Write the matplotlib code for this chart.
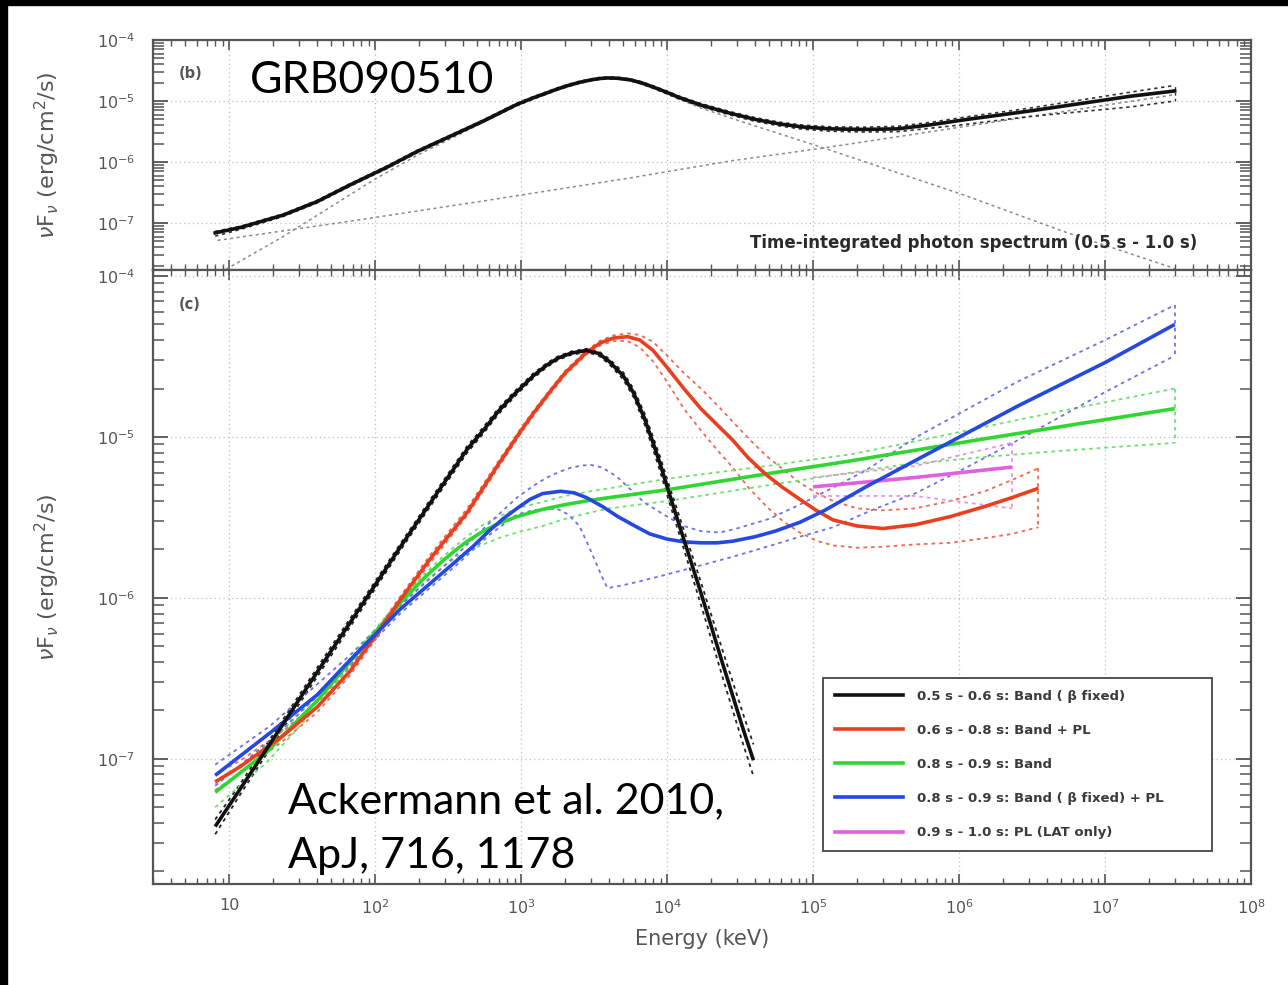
import matplotlib
matplotlib.use('Agg')
import matplotlib.pyplot as plt
from matplotlib.ticker import FixedLocator, FixedFormatter, LogLocator, NullFormatter
from matplotlib.patches import Rectangle
from matplotlib.lines import Line2D

# ---------------- data: top panel (b) ----------------
tot_E = [8, 12, 23.4, 40, 67, 120, 195, 350, 550, 935, 1200, 1500, 1750, 2070, 2500, 3000,
         3400, 3900, 4600, 5600, 6700, 8000, 1e4, 1.2e4, 1.7e4, 2.7e4, 4e4, 5.9e4, 8.5e4,
         1.3e5, 2.2e5, 3.8e5, 6.5e5, 1.07e6, 3.1e6, 1.5e7, 3e7]
tot_F = [6.9e-8, 8.5e-8, 1.35e-7, 2.25e-7, 4.2e-7, 8.2e-7, 1.5e-6, 2.85e-6, 4.7e-6, 8.8e-6,
         1.12e-5, 1.36e-5, 1.56e-5, 1.78e-5, 2.02e-5, 2.22e-5, 2.33e-5, 2.39e-5, 2.36e-5,
         2.22e-5, 1.98e-5, 1.7e-5, 1.38e-5, 1.15e-5, 8.6e-6, 6.3e-6, 5.0e-6, 4.2e-6, 3.75e-6,
         3.5e-6, 3.42e-6, 3.5e-6, 4.1e-6, 4.9e-6, 6.9e-6, 1.2e-5, 1.46e-5]
tot_hi = [7.3e-8, 8.9e-8, 1.41e-7, 2.36e-7, 4.4e-7, 8.6e-7, 1.57e-6, 2.98e-6, 4.9e-6, 9.2e-6,
          1.17e-5, 1.42e-5, 1.63e-5, 1.86e-5, 2.1e-5, 2.3e-5, 2.41e-5, 2.47e-5, 2.44e-5,
          2.3e-5, 2.06e-5, 1.78e-5, 1.45e-5, 1.21e-5, 9.1e-6, 6.7e-6, 5.35e-6, 4.5e-6, 4.03e-6,
          3.78e-6, 3.72e-6, 3.85e-6, 4.5e-6, 5.4e-6, 7.7e-6, 1.4e-5, 1.8e-5]
tot_lo = [6.1e-8, 7.9e-8, 1.28e-7, 2.14e-7, 4.0e-7, 7.8e-7, 1.43e-6, 2.72e-6, 4.5e-6, 8.4e-6,
          1.07e-5, 1.3e-5, 1.5e-5, 1.71e-5, 1.95e-5, 2.14e-5, 2.25e-5, 2.31e-5, 2.28e-5,
          2.14e-5, 1.9e-5, 1.62e-5, 1.31e-5, 1.09e-5, 8.1e-6, 5.9e-6, 4.65e-6, 3.9e-6, 3.45e-6,
          3.2e-6, 3.1e-6, 3.15e-6, 3.6e-6, 4.1e-6, 5.6e-6, 8.0e-6, 1.0e-5]
band_E = [8, 9.7, 23.4, 67, 103, 195, 350, 550, 935, 1500, 2070, 3000, 3900, 5600, 8000,
          1.2e4, 1.7e4, 2.7e4, 4e4, 5.9e4, 1.18e5, 1.07e6, 5.1e6, 3e7]
band_F = [1.35e-8, 1.8e-8, 6.0e-8, 2.9e-7, 5.5e-7, 1.3e-6, 2.6e-6, 4.45e-6, 8.5e-6, 1.32e-5,
          1.74e-5, 2.17e-5, 2.34e-5, 2.16e-5, 1.63e-5, 1.07e-5, 7.7e-6, 5.3e-6, 3.9e-6, 2.9e-6,
          1.7e-6, 2.9e-7, 7.4e-8, 1.8e-8]
pl_E = [8.3, 67, 550, 5600, 2.7e4, 1.18e5, 1e6, 3e7]
pl_F = [5.2e-8, 1.07e-7, 2.3e-7, 5.5e-7, 1.04e-6, 1.7e-6, 3.7e-6, 1.27e-5]

# ---------------- data: bottom panel (c) ----------------
blk_E = [8, 12, 20, 30, 50, 80, 150, 250, 427, 550, 700, 900, 1210, 1500, 1800, 2200, 2800,
         3400, 4000, 5000, 5900, 7000, 8000, 9000, 1e4, 1.2e4, 1.45e4, 1.7e4, 2e4, 2.4e4,
         2.8e4, 3.3e4, 3.9e4]
blk = [3.8e-8, 6.6e-8, 1.33e-7, 2.33e-7, 4.7e-7, 8.9e-7, 2.1e-6, 4.15e-6, 8.4e-6, 1.1e-5,
       1.45e-5, 1.85e-5, 2.4e-5, 2.8e-5, 3.1e-5, 3.32e-5, 3.45e-5, 3.3e-5, 2.95e-5, 2.4e-5,
       1.87e-5, 1.3e-5, 9.2e-6, 6.7e-6, 4.9e-6, 2.9e-6, 1.7e-6, 1.08e-6, 6.7e-7, 3.9e-7,
       2.5e-7, 1.55e-7, 9.8e-8]
blk_hi = [4.2e-8, 7.1e-8, 1.42e-7, 2.48e-7, 5.0e-7, 9.4e-7, 2.2e-6, 4.35e-6, 8.8e-6, 1.15e-5,
          1.51e-5, 1.92e-5, 2.48e-5, 2.88e-5, 3.18e-5, 3.4e-5, 3.53e-5, 3.4e-5, 3.06e-5, 2.52e-5,
          1.98e-5, 1.4e-5, 1.0e-5, 7.4e-6, 5.45e-6, 3.3e-6, 1.96e-6, 1.26e-6, 7.9e-7, 4.7e-7,
          3.05e-7, 1.92e-7, 1.23e-7]
blk_lo = [3.4e-8, 6.1e-8, 1.24e-7, 2.18e-7, 4.4e-7, 8.4e-7, 2.0e-6, 3.95e-6, 8.0e-6, 1.05e-5,
          1.39e-5, 1.78e-5, 2.32e-5, 2.72e-5, 3.02e-5, 3.24e-5, 3.37e-5, 3.2e-5, 2.84e-5, 2.28e-5,
          1.76e-5, 1.2e-5, 8.4e-6, 6.0e-6, 4.35e-6, 2.55e-6, 1.46e-6, 9.1e-7, 5.6e-7, 3.2e-7,
          2.03e-7, 1.25e-7, 7.8e-8]

red_E = [8, 12, 23.5, 40, 67, 100, 148, 238, 427, 700, 1000, 1210, 1600, 2000, 2800, 3500,
         4300, 5350, 6500, 8000, 1e4, 1.3e4, 1.7e4, 2.2e4, 2.8e4, 3.6e4, 4.8e4, 6.2e4, 8.1e4,
         1.05e5, 1.37e5, 2e5, 3e5, 5e5, 8.7e5, 1.5e6, 2.3e6, 3.5e6]
red = [7.2e-8, 9.0e-8, 1.4e-7, 2.1e-7, 3.5e-7, 5.8e-7, 9.7e-7, 1.75e-6, 3.4e-6, 6.8e-6,
       1.1e-5, 1.4e-5, 1.95e-5, 2.5e-5, 3.35e-5, 3.85e-5, 4.12e-5, 4.2e-5, 4.0e-5, 3.45e-5,
       2.7e-5, 2.0e-5, 1.5e-5, 1.19e-5, 9.6e-6, 7.4e-6, 5.8e-6, 4.85e-6, 4.1e-6, 3.5e-6,
       3.05e-6, 2.8e-6, 2.7e-6, 2.85e-6, 3.2e-6, 3.7e-6, 4.2e-6, 4.8e-6]
red_hi = [8.0e-8, 9.8e-8, 1.5e-7, 2.25e-7, 3.7e-7, 6.1e-7, 1.02e-6, 1.85e-6, 3.6e-6, 7.1e-6,
          1.14e-5, 1.45e-5, 2.0e-5, 2.58e-5, 3.45e-5, 3.98e-5, 4.28e-5, 4.4e-5, 4.3e-5, 3.9e-5,
          3.2e-5, 2.5e-5, 2.0e-5, 1.58e-5, 1.25e-5, 9.8e-6, 7.6e-6, 6.3e-6, 5.2e-6, 4.5e-6,
          4.0e-6, 3.6e-6, 3.5e-6, 3.6e-6, 4.0e-6, 4.6e-6, 5.4e-6, 6.4e-6]
red_lo = [6.4e-8, 8.2e-8, 1.3e-7, 1.95e-7, 3.3e-7, 5.5e-7, 9.2e-7, 1.65e-6, 3.25e-6, 6.5e-6,
          1.06e-5, 1.35e-5, 1.88e-5, 2.42e-5, 3.25e-5, 3.72e-5, 3.95e-5, 3.95e-5, 3.6e-5, 2.95e-5,
          2.2e-5, 1.5e-5, 1.1e-5, 8.3e-6, 6.5e-6, 4.85e-6, 3.7e-6, 3.0e-6, 2.55e-6, 2.27e-6,
          2.12e-6, 2.05e-6, 2.08e-6, 2.15e-6, 2.2e-6, 2.35e-6, 2.5e-6, 2.75e-6]

grn_E = [8, 18, 40, 67, 148, 220, 290, 360, 427, 550, 700, 935, 1400, 2000, 3000, 4000, 1e4,
         4.8e4, 1.8e5, 4e5, 1.45e6, 5e6, 3e7]
grn = [6.2e-8, 1.1e-7, 2.3e-7, 4.0e-7, 9.3e-7, 1.35e-6, 1.7e-6, 2.0e-6, 2.25e-6, 2.6e-6,
       2.9e-6, 3.2e-6, 3.55e-6, 3.8e-6, 4.05e-6, 4.2e-6, 4.7e-6, 5.9e-6, 7.1e-6, 8.0e-6,
       9.7e-6, 1.16e-5, 1.5e-5]
grn_hi = [7.0e-8, 1.2e-7, 2.45e-7, 4.2e-7, 9.7e-7, 1.42e-6, 1.8e-6, 2.13e-6, 2.42e-6, 2.85e-6,
          3.2e-6, 3.6e-6, 3.95e-6, 4.3e-6, 4.6e-6, 4.8e-6, 5.5e-6, 6.6e-6, 7.8e-6, 9.0e-6,
          1.15e-5, 1.45e-5, 2.0e-5]
grn_lo = [5.0e-8, 9.5e-8, 2.1e-7, 3.8e-7, 8.8e-7, 1.27e-6, 1.55e-6, 1.8e-6, 1.95e-6, 2.15e-6,
          2.35e-6, 2.55e-6, 2.8e-6, 3.1e-6, 3.4e-6, 3.6e-6, 4.0e-6, 5.0e-6, 6.0e-6, 6.7e-6,
          7.5e-6, 8.2e-6, 9.2e-6]

blu_E = [8, 19, 40, 67, 148, 360, 470, 600, 750, 935, 1150, 1400, 1860, 2300, 2800, 3600, 4600,
         6000, 7600, 1e4, 1.3e4, 1.7e4, 2.2e4, 2.8e4, 4e4, 5.5e4, 8.1e4, 1.2e5, 2.3e5, 5.1e5,
         2.5e6, 1e7, 3e7]
blu = [7.9e-8, 1.45e-7, 2.5e-7, 4.1e-7, 8.5e-7, 1.7e-6, 2.1e-6, 2.6e-6, 3.1e-6, 3.6e-6, 4.1e-6,
       4.45e-6, 4.6e-6, 4.5e-6, 4.2e-6, 3.7e-6, 3.2e-6, 2.8e-6, 2.5e-6, 2.32e-6, 2.23e-6, 2.2e-6,
       2.2e-6, 2.25e-6, 2.4e-6, 2.6e-6, 2.95e-6, 3.5e-6, 4.9e-6, 7.2e-6, 1.55e-5, 2.9e-5, 5.0e-5]
bhi_E = [8, 19, 67, 148, 360, 600, 935, 1200, 1500, 1850, 2200, 2600, 3000, 3500, 4000, 4700,
         5500, 7000, 1e4, 1.3e4, 1.7e4, 2.3e4, 3e4, 5e4, 8.1e4, 1.4e5, 2.3e5, 5.1e5, 2.5e6,
         1e7, 3e7]
blu_hi = [9.2e-8, 1.6e-7, 4.4e-7, 9.0e-7, 1.85e-6, 2.9e-6, 4.2e-6, 4.95e-6, 5.6e-6, 6.1e-6,
          6.45e-6, 6.65e-6, 6.7e-6, 6.5e-6, 6.1e-6, 5.5e-6, 4.8e-6, 3.9e-6, 3.2e-6, 2.8e-6,
          2.6e-6, 2.55e-6, 2.7e-6, 3.1e-6, 3.8e-6, 4.9e-6, 6.2e-6, 1.0e-5, 2.2e-5, 4.0e-5, 6.6e-5]
blo_E = [8, 19, 67, 148, 360, 600, 935, 1200, 1500, 1800, 2100, 2500, 2900, 3300, 3650, 3900,
         5000, 6500, 1e4, 1.6e4, 2.8e4, 5e4, 8.1e4, 1.37e5, 2.5e5, 5.1e5, 1.1e6, 2.5e6, 1e7, 3e7]
blu_lo = [6.8e-8, 1.3e-7, 3.8e-7, 8.0e-7, 1.6e-6, 2.45e-6, 3.3e-6, 3.5e-6, 3.6e-6, 3.55e-6,
          3.3e-6, 2.8e-6, 2.1e-6, 1.6e-6, 1.3e-6, 1.15e-6, 1.2e-6, 1.27e-6, 1.4e-6, 1.57e-6,
          1.8e-6, 2.1e-6, 2.4e-6, 2.75e-6, 3.5e-6, 4.5e-6, 6.4e-6, 9.5e-6, 1.9e-5, 3.2e-5]

mag_E = [1e5, 5e5, 2.3e6]
mag = [4.9e-6, 5.6e-6, 6.5e-6]
mag_hi = [5.6e-6, 6.6e-6, 9.2e-6]
mag_lo = [4.3e-6, 4.3e-6, 3.6e-6]

legend_labels = ["0.5 s - 0.6 s: Band ( \u03b2 fixed)",
                 "0.6 s - 0.8 s: Band + PL",
                 "0.8 s - 0.9 s: Band",
                 "0.8 s - 0.9 s: Band ( \u03b2 fixed) + PL",
                 "0.9 s - 1.0 s: PL (LAT only)"]

x_ticks = [1e1, 1e2, 1e3, 1e4, 1e5, 1e6, 1e7, 1e8]
x_ticklabels = ['10', r'$\mathregular{10^{2}}$', r'$\mathregular{10^{3}}$', r'$\mathregular{10^{4}}$',
                r'$\mathregular{10^{5}}$', r'$\mathregular{10^{6}}$', r'$\mathregular{10^{7}}$',
                r'$\mathregular{10^{8}}$']
y_ticks = [1e-7, 1e-6, 1e-5, 1e-4]
y_ticklabels = [r'$\mathregular{10^{-7}}$', r'$\mathregular{10^{-6}}$', r'$\mathregular{10^{-5}}$',
                r'$\mathregular{10^{-4}}$']

# ---------------- figure ----------------
W, H = 1288, 985
fig = plt.figure(figsize=(W / 100, H / 100), dpi=100)
fig.patch.set_facecolor('white')

L, R = 153, 1251
axt = fig.add_axes([L / W, 1 - 270 / H, (R - L) / W, (270 - 40) / H])
axb = fig.add_axes([L / W, 1 - 884 / H, (R - L) / W, (884 - 270) / H])

gray = '#555555'


def style(ax, ylim, show_xlabels):
    ax.set_xscale('log')
    ax.set_yscale('log')
    ax.set_xlim(3, 1e8)
    ax.set_ylim(*ylim)
    ax.xaxis.set_major_locator(FixedLocator(x_ticks))
    ax.xaxis.set_minor_locator(LogLocator(base=10, subs=range(2, 10), numticks=30))
    ax.xaxis.set_minor_formatter(NullFormatter())
    if show_xlabels:
        ax.xaxis.set_major_formatter(FixedFormatter(x_ticklabels))
    else:
        ax.xaxis.set_major_formatter(NullFormatter())
    ax.yaxis.set_major_locator(FixedLocator(y_ticks))
    ax.yaxis.set_major_formatter(FixedFormatter(y_ticklabels))
    ax.yaxis.set_minor_locator(LogLocator(base=10, subs=range(2, 10), numticks=30))
    ax.yaxis.set_minor_formatter(NullFormatter())
    ax.tick_params(which='both', direction='in', top=True, right=True, color=gray,
                   labelcolor=gray, labelsize=11.5)
    ax.tick_params(axis='y', which='major', length=11, width=1.3, pad=13)
    ax.tick_params(axis='y', which='minor', length=8, width=1.1)
    ax.tick_params(axis='x', which='major', length=7, width=1.2, pad=10)
    ax.tick_params(axis='x', which='minor', length=4, width=1.0)
    ax.grid(True, which='major', ls=(0, (1, 2.5)), color='#bdbdbd', lw=0.9)
    for s in ax.spines.values():
        s.set_color(gray)
        s.set_linewidth(1.6)


style(axt, (1.7e-8, 1.0e-4), False)
style(axb, (1.67e-8, 1.09e-4), True)

dot = (0, (2, 2.2))

# top panel
axt.plot(band_E, band_F, color='#8a8a8a', lw=1.1, ls=dot)
axt.plot(pl_E, pl_F, color='#8a8a8a', lw=1.1, ls=dot)
axt.plot(tot_E, tot_hi, color='#333333', lw=1.2, ls=dot)
axt.plot(tot_E, tot_lo, color='#333333', lw=1.2, ls=dot)
axt.plot([tot_E[-1], tot_E[-1]], [tot_lo[-1], tot_hi[-1]], color='#333333', lw=1.0, ls=dot)
axt.plot(tot_E, tot_F, color='#111111', lw=2.6)
axt.text(0.023, 0.855, '(b)', transform=axt.transAxes, fontsize=10.5, fontweight='bold',
         color='#555555', va='center')
axt.text(0.951, 0.117, 'Time-integrated photon spectrum (0.5 s - 1.0 s)', transform=axt.transAxes,
         fontsize=12, fontweight='bold', color='#2a2a2a', ha='right', va='center')
axt.set_ylabel(r'$\nu$F$_{\nu}$ (erg/cm$^{2}$/s)', fontsize=16, color=gray)
axt.yaxis.set_label_coords(-0.083, 0.5)

# bottom panel
series = [
    (blk_E, blk, blk_E, blk_hi, blk_E, blk_lo, '#111111', '#222222', False),
    (red_E, red, red_E, red_hi, red_E, red_lo, '#e8401f', '#ee6a50', True),
    (grn_E, grn, grn_E, grn_hi, grn_E, grn_lo, '#2fd62f', '#6ee06e', True),
    (blu_E, blu, bhi_E, blu_hi, blo_E, blu_lo, '#2448e0', '#6b74e6', True),
    (mag_E, mag, mag_E, mag_hi, mag_E, mag_lo, '#e060e0', '#e890e8', True),
]
for xe, ys, xh, yh, xl, yl, c, cd, closed in series:
    axb.plot(xh, yh, color=cd, lw=1.3, ls=dot)
    axb.plot(xl, yl, color=cd, lw=1.3, ls=dot)
    if closed:
        axb.plot([xh[-1], xl[-1]], [yh[-1], yl[-1]], color=cd, lw=1.3, ls=dot)

draw_order = [2, 4, 1, 3, 0]
for i in draw_order:
    xe, ys, xh, yh, xl, yl, c, cd, closed = series[i]
    axb.plot(xe, ys, color=c, lw=2.6, solid_capstyle='butt', solid_joinstyle='round')

axb.text(0.023, 0.943, '(c)', transform=axb.transAxes, fontsize=10.5, fontweight='bold',
         color='#555555', va='center')
axb.set_ylabel(r'$\nu$F$_{\nu}$ (erg/cm$^{2}$/s)', fontsize=16, color=gray)
axb.yaxis.set_label_coords(-0.083, 0.5)
axb.set_xlabel('Energy (keV)', fontsize=15, color=gray)
axb.xaxis.set_label_coords(0.5, -0.074)

handles = [Line2D([], [], color=s[6], lw=2.6) for s in series]
leg = axb.legend(handles, legend_labels, loc='lower left',
                 bbox_to_anchor=(0.6102, 0.0537, 0.3543, 0.28), mode='expand',
                 borderaxespad=0.0,
                 prop={'weight': 'bold', 'size': 9.5}, labelspacing=1.6, handlelength=5.2,
                 handletextpad=1.05, borderpad=0.9, fancybox=False, framealpha=1,
                 edgecolor='#444444')
leg.get_frame().set_linewidth(1.3)
for t in leg.get_texts():
    t.set_color('#3a3a3a')

# overlay annotations
fig.text(250 / W, 1 - 93 / H, 'GRB090510', fontsize=32, family='Lato', color='black',
         va='baseline')
fig.text(288 / W, 1 - 813 / H, 'Ackermann et al. 2010,', fontsize=31, family='Lato',
         color='black', va='baseline')
fig.text(288 / W, 1 - 868 / H, 'ApJ, 716, 1178', fontsize=31, family='Lato',
         color='black', va='baseline')

# black frame edges
fig.patches.append(Rectangle((0, 0), 7 / W, 1, transform=fig.transFigure, color='black',
                             zorder=10))
fig.patches.append(Rectangle((0, 1 - 5 / H), 1, 5 / H, transform=fig.transFigure,
                             color='black', zorder=10))

fig.savefig('out.png', dpi=100)
